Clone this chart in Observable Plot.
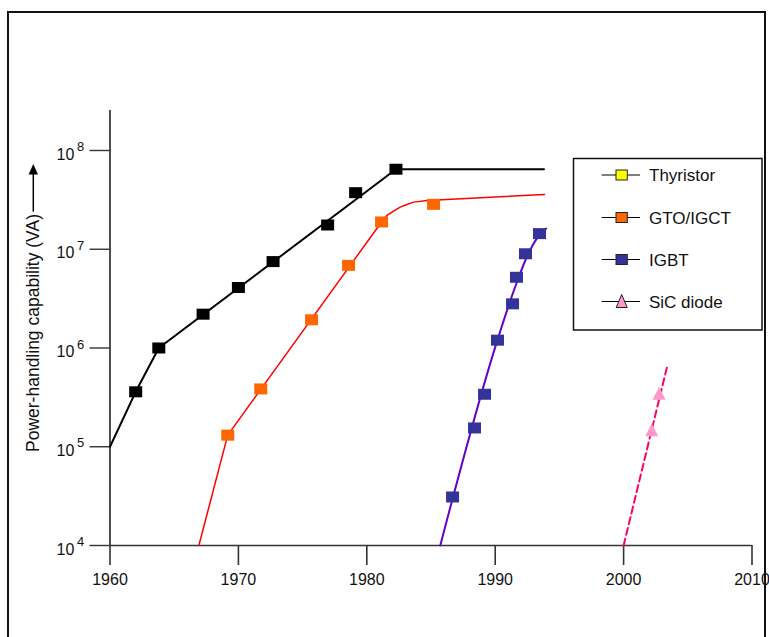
<!DOCTYPE html>
<html>
<head>
<meta charset="utf-8">
<script src="https://cdn.jsdelivr.net/npm/d3@7"></script>
<script src="https://cdn.jsdelivr.net/npm/@observablehq/plot@0.6"></script>
<style>
  html, body { margin: 0; padding: 0; background: #fff; }
  #chart { position: relative; width: 769px; height: 637px; overflow: hidden; }
</style>
</head>
<body>
<div id="chart"></div>
<script>
// ---------- data ----------
const xTicks = [1960, 1970, 1980, 1990, 2000, 2010];
const yTicks = [1e4, 1e5, 1e6, 1e7, 1e8];
const yTitle = "Power-handling capability (VA)";

// Thyristor
const thyrYear = [1962, 1963.8, 1967.25, 1970, 1972.7, 1976.95, 1979.13, 1982.27];
const thyrVA = [3.6e5, 1.0e6, 2.2e6, 4.1e6, 7.5e6, 1.76e7, 3.74e7, 6.46e7];
const thyrLineYear = [1960, 1962, 1963.8, 1982.27, 1993.8];
const thyrLineVA = [1.0e5, 3.6e5, 1.0e6, 6.46e7, 6.46e7];

// GTO / IGCT
const gtoYear = [1969.17, 1971.74, 1975.7, 1978.58, 1981.15, 1985.2];
const gtoVA = [1.31e5, 3.85e5, 1.93e6, 6.87e6, 1.89e7, 2.85e7];
const gtoLineYear = [1966.92, 1969.17, 1981.15, 1981.57, 1982.09, 1982.6, 1983.12, 1983.64, 1984.68, 1993.84];
const gtoLineVA = [1e4, 1.31e5, 1.89e7, 2.2e7, 2.43e7, 2.67e7, 2.84e7, 3.0e7, 3.12e7, 3.59e7];

// IGBT
const igbtYear = [1986.68, 1988.39, 1989.17, 1990.18, 1991.35, 1991.66, 1992.36, 1993.45];
const igbtVA = [3.1e4, 1.55e5, 3.4e5, 1.2e6, 2.8e6, 5.2e6, 9.0e6, 1.44e7];
const igbtLineYear = [1985.72, 1990.18, 1991.56, 1992.47, 1993.25, 1993.97];
const igbtLineVA = [1e4, 1.21e6, 4.17e6, 8.4e6, 1.29e7, 1.62e7];

// SiC diode
const sicYear = [2002.19, 2002.76];
const sicVA = [1.45e5, 3.4e5];
const sicLineYear = [2000.0, 2003.39];
const sicLineVA = [1e4, 6.5e5];

// legend
const legendLabels = ["Thyristor", "GTO/IGCT", "IGBT", "SiC diode"];
const legendFills = ["#ffff00", "#ff6600", "#333399", "#ff99cc"];
const legendShapes = ["square", "square", "square", "triangle"];

// ---------- styles ----------
const FONT = "'Liberation Sans', Arial, Helvetica, sans-serif";
const rectSym = { draw(ctx) { ctx.rect(-6.5, -5.5, 13, 11); } };
const triSym = { draw(ctx) { ctx.moveTo(0, -7.5); ctx.lineTo(6.5, 5.5); ctx.lineTo(-6.5, 5.5); ctx.closePath(); } };

const plot = Plot.plot({
  width: 769,
  height: 637,
  marginLeft: 109.5,
  marginRight: 17.5,
  marginTop: 110,
  marginBottom: 92,
  style: { fontFamily: FONT, background: "transparent", color: "#222" },
  x: { domain: [1960, 2010] },
  y: { type: "log", domain: [1e4, Math.pow(10, 8.405)] },
  marks: [
    // axes
    Plot.ruleY([1e4], { stroke: "#333", strokeWidth: 1.6 }),
    Plot.ruleX([1960], { stroke: "#222", strokeWidth: 1.6 }),
    Plot.axisX({ ticks: xTicks, tickSize: 20, tickPadding: 8, tickFormat: d => String(d), fontSize: 16, label: null, stroke: "#333", strokeWidth: 1.6, fill: "#111" }),
    Plot.axisY({ ticks: yTicks, tickSize: 20, tickFormat: () => "", label: null, stroke: "#333", strokeWidth: 1.4 }),
    Plot.text(yTicks, { y: d => d, frameAnchor: "left", text: () => "10", textAnchor: "end", dx: -35.7, dy: 4, fontSize: 16, fill: "#111" }),
    Plot.text(yTicks, { y: d => d, frameAnchor: "left", text: d => String(Math.round(Math.log10(d))), textAnchor: "start", dx: -33, dy: -3.5, fontSize: 13, fill: "#111" }),
    Plot.text([yTitle], { frameAnchor: "left", text: d => d, rotate: -90, textAnchor: "middle", dx: -76.2, dy: 5, fontSize: 17.5, fill: "#111" }),

    // lines
    Plot.line(thyrLineYear, { x: thyrLineYear, y: thyrLineVA, stroke: "#000", strokeWidth: 2 }),
    Plot.line(gtoLineYear, { x: gtoLineYear, y: gtoLineVA, stroke: "#ff0000", strokeWidth: 1.5 }),
    Plot.line(igbtLineYear, { x: igbtLineYear, y: igbtLineVA, stroke: "#6600cc", strokeWidth: 2, curve: "monotone-x" }),
    Plot.line(sicLineYear, { x: sicLineYear, y: sicLineVA, stroke: "#ff0066", strokeWidth: 2, strokeDasharray: "7,4" }),

    // markers
    Plot.dot(thyrYear, { x: thyrYear, y: thyrVA, symbol: rectSym, fill: "#000", stroke: "none" }),
    Plot.dot(gtoYear, { x: gtoYear, y: gtoVA, symbol: rectSym, fill: "#ff6600", stroke: "none" }),
    Plot.dot(igbtYear, { x: igbtYear, y: igbtVA, symbol: rectSym, fill: "#333399", stroke: "none" }),
    Plot.dot(sicYear, { x: sicYear, y: sicVA, symbol: triSym, fill: "#ff99cc", stroke: "none" })
  ]
});

document.getElementById("chart").appendChild(plot);

// ---------- decorations: outer frame, axis-title arrow, legend ----------
const svg = d3.select(plot);
svg.append("path")
  .attr("d", "M8,660V12H765V660")
  .attr("fill", "none").attr("stroke", "#111").attr("stroke-width", 2);

svg.append("line")
  .attr("x1", 33.3).attr("x2", 33.3).attr("y1", 211.7).attr("y2", 172)
  .attr("stroke", "#000").attr("stroke-width", 1.5);
svg.append("path")
  .attr("d", "M33.3,164L38,174.5L28.6,174.5Z").attr("fill", "#000");

const lg = svg.append("g").attr("text-anchor", "start");
lg.append("rect")
  .attr("x", 573.5).attr("y", 158.5).attr("width", 188.5).attr("height", 171.5)
  .attr("fill", "#fff").attr("stroke", "#111").attr("stroke-width", 1.5);
const rowY = [175, 217.5, 259.5, 301.5];
legendLabels.forEach((lab, i) => {
  const y = rowY[i];
  lg.append("line").attr("x1", 601.7).attr("x2", 640).attr("y1", y).attr("y2", y)
    .attr("stroke", "#000").attr("stroke-width", 1.2);
  if (legendShapes[i] === "square") {
    lg.append("rect").attr("x", 616).attr("y", y - 5).attr("width", 11.3).attr("height", 10)
      .attr("fill", legendFills[i]).attr("stroke", "#222").attr("stroke-width", 1);
  } else {
    lg.append("path").attr("d", `M621.7,${y - 7}L627.2,${y + 6}L616.2,${y + 6}Z`)
      .attr("fill", legendFills[i]).attr("stroke", "#222").attr("stroke-width", 1);
  }
  lg.append("text").attr("x", 649).attr("y", y).attr("dy", "0.36em")
    .attr("text-anchor", "start")
    .attr("font-family", FONT).attr("font-size", 17).attr("fill", "#111").text(lab);
});
</script>
</body>
</html>
